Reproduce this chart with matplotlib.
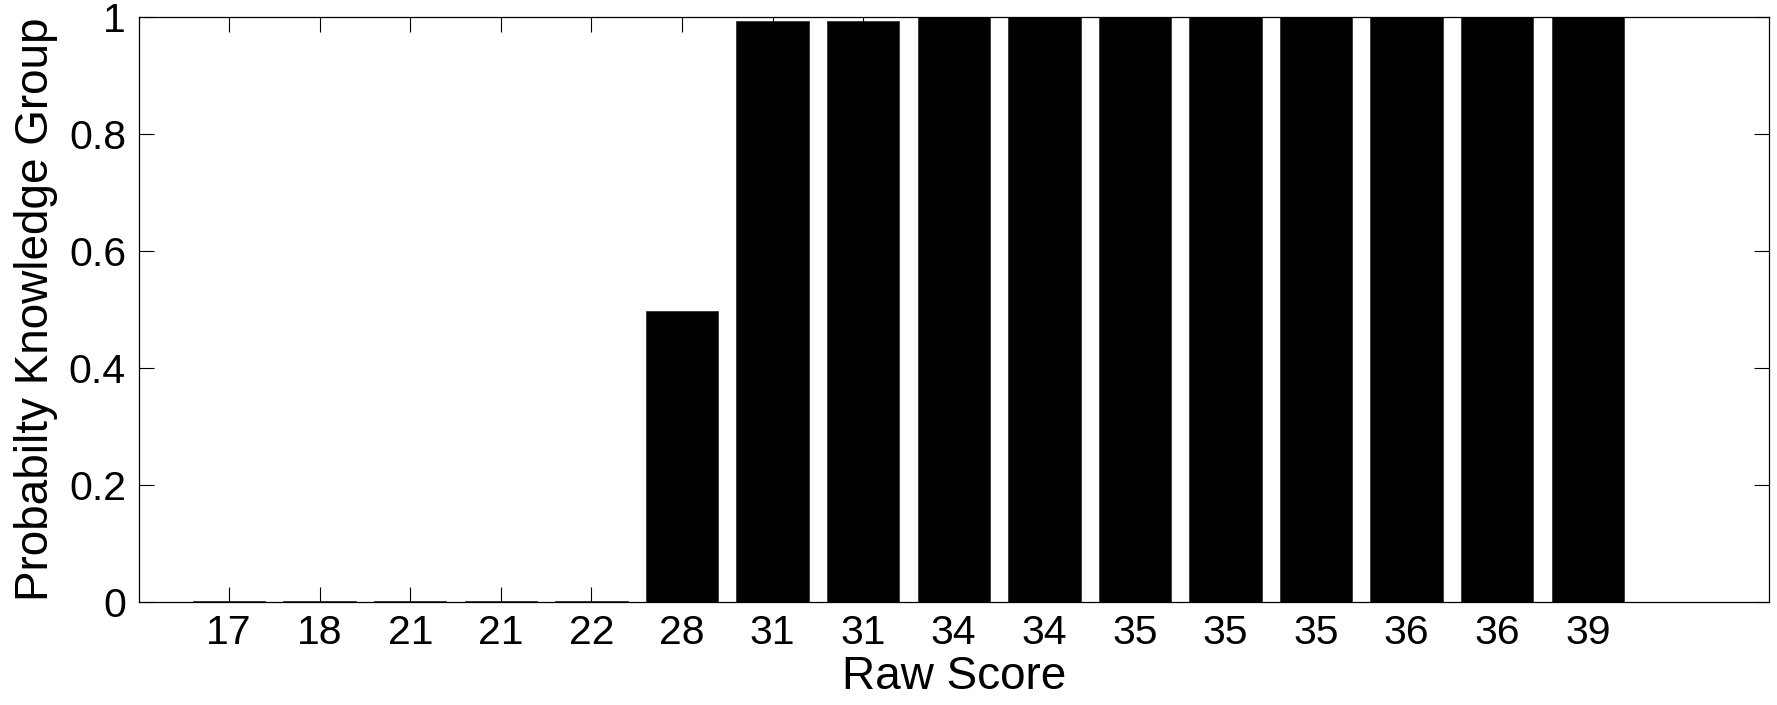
import matplotlib

matplotlib.use("Agg")
import matplotlib.pyplot as plt
import numpy as np

raw_scores = ["17", "18", "21", "21", "22", "28", "31", "31", "34", "34", "35", "35", "35", "36", "36", "39"]
prob_knowledge = [0.001, 0.001, 0.001, 0.001, 0.001, 0.497, 0.993, 0.993,
                  1.0, 1.0, 1.0, 1.0, 1.0, 1.0, 1.0, 1.0]

plt.rcParams["font.family"] = ["Liberation Sans", "DejaVu Sans"]

fig = plt.figure(figsize=(17.77, 7.05), dpi=100)
ax = fig.add_axes([138.5 / 1777, 1 - 601.7 / 705, (1769 - 138.5) / 1777, (601.7 - 16.5) / 705])

x = np.arange(1, len(raw_scores) + 1)
ax.bar(x, prob_knowledge, width=0.8, color="black", edgecolor="#333333", linewidth=0.6)

ax.set_xlim(0, 18)
ax.set_ylim(0, 1)
ax.set_xticks(x)
ax.set_xticklabels(raw_scores)
ax.set_yticks([0, 0.2, 0.4, 0.6, 0.8, 1])
ax.set_yticklabels(["0", "0.2", "0.4", "0.6", "0.8", "1"])
ax.tick_params(direction="in", length=10.5, width=0.8, top=True, right=True,
               labelsize=29.5, pad=9)
for spine in ax.spines.values():
    spine.set_linewidth(0.9)

ax.set_xlabel("Raw Score", fontsize=33, labelpad=2)
ax.set_ylabel("Probabilty Knowledge Group", fontsize=33, labelpad=8)

fig.savefig("out.png", dpi=100)
